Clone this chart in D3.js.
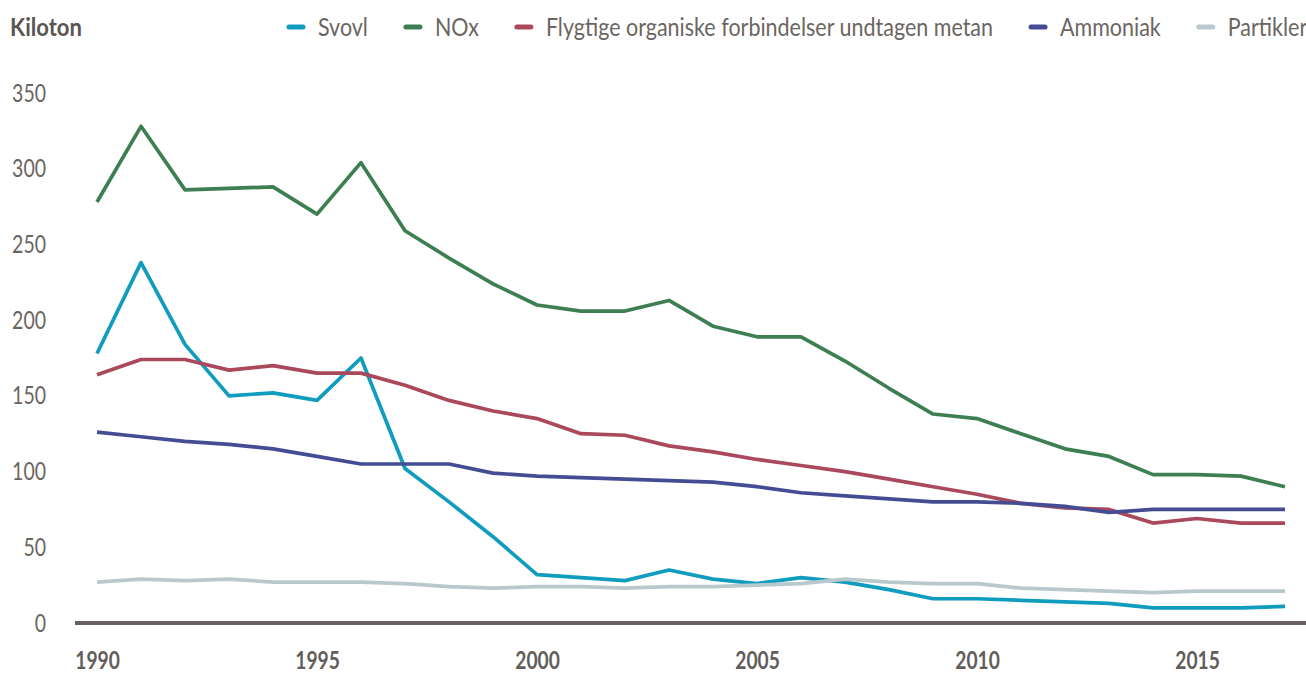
<!DOCTYPE html>
<html>
<head>
<meta charset="utf-8">
<script src="https://cdn.jsdelivr.net/npm/d3@7"></script>
<style>
  body { margin: 0; background: #fff; }
  svg { display: block; font-family: Lato, 'Open Sans', sans-serif; }
</style>
</head>
<body>
<svg width="1306" height="675"></svg>
<script>
// Data (kiloton per year)
const years = d3.range(1990, 2018);
const svovl = [178, 238, 184, 150, 152, 147, 175, 102, 80, 57, 32, 30, 28, 35, 29, 26, 30, 27, 22, 16, 16, 15, 14, 13, 10, 10, 10, 11];
const nox = [278, 328, 286, 287, 288, 270, 304, 259, 241, 224, 210, 206, 206, 213, 196, 189, 189, 173, 155, 138, 135, 125, 115, 110, 98, 98, 97, 90];
const voc = [164, 174, 174, 167, 170, 165, 165, 157, 147, 140, 135, 125, 124, 117, 113, 108, 104, 100, 95, 90, 85, 79, 76, 75, 66, 69, 66, 66];
const ammoniak = [126, 123, 120, 118, 115, 110, 105, 105, 105, 99, 97, 96, 95, 94, 93, 90, 86, 84, 82, 80, 80, 79, 77, 73, 75, 75, 75, 75];
const partikler = [27, 29, 28, 29, 27, 27, 27, 26, 24, 23, 24, 24, 23, 24, 24, 25, 26, 29, 27, 26, 26, 23, 22, 21, 20, 21, 21, 21];

const seriesNames = ['Svovl', 'NOx', 'Flygtige organiske forbindelser undtagen metan', 'Ammoniak', 'Partikler'];
const seriesValues = [svovl, nox, voc, ammoniak, partikler];
const colors = ['#0f9cbf', '#3d7f52', '#a9495b', '#444d94', '#b9c8cd'];
const yTicks = [0, 50, 100, 150, 200, 250, 300, 350];
const xTicks = [1990, 1995, 2000, 2005, 2010, 2015];

const svg = d3.select('svg');
const textColor = '#6b6561';
const squeeze = 0.78;
const legendSqueeze = 0.86;

const x = d3.scaleLinear().domain([1990, 2017]).range([97, 1285]);
const y = d3.scaleLinear().domain([0, 350]).range([623, 93]);

// y axis labels
const gy = svg.append('g').attr('transform', 'translate(46,0)')
  .call(d3.axisLeft(y).tickValues(yTicks).tickSize(0).tickPadding(0));
gy.select('.domain').remove();
gy.selectAll('text')
  .attr('x', 0)
  .attr('transform', `scale(${squeeze},1)`)
  .style('font-family', 'Lato, sans-serif')
  .style('font-size', '25px')
  .attr('fill', textColor);

// x axis labels
const gx = svg.append('g').attr('transform', 'translate(0,623)')
  .call(d3.axisBottom(x).tickValues(xTicks).tickFormat(d3.format('d')).tickSize(0).tickPadding(29));
gx.select('.domain').remove();
gx.selectAll('text')
  .attr('transform', `scale(0.8,1)`)
  .style('font-family', 'Lato, sans-serif')
  .style('font-size', '24px')
  .style('font-weight', 'bold')
  .attr('fill', '#625d5a');

// base line
svg.append('line')
  .attr('x1', x(1989.5)).attr('x2', x(2017.5))
  .attr('y1', y(0)).attr('y2', y(0))
  .attr('stroke', '#67625f')
  .attr('stroke-width', 4);

// lines
const line = d3.line()
  .x((d, i) => x(years[i]))
  .y(d => y(d));

svg.append('g')
  .selectAll('path')
  .data(seriesValues)
  .enter()
  .append('path')
  .attr('d', line)
  .attr('fill', 'none')
  .attr('stroke', (d, i) => colors[i])
  .attr('stroke-width', 3.7)
  .attr('stroke-linejoin', 'round');

// unit label
svg.append('text')
  .attr('transform', 'translate(10,36) scale(0.92,1)')
  .style('font-size', '24px')
  .style('font-weight', 'bold')
  .attr('fill', '#5a5552')
  .text('Kiloton');

// legend
let lx = 287;
seriesNames.forEach(function (name, i) {
  const g = svg.append('g').attr('transform', `translate(${lx},27)`);
  g.append('line')
    .attr('x1', 2).attr('x2', 16)
    .attr('stroke', colors[i])
    .attr('stroke-width', 5)
    .attr('stroke-linecap', 'round');
  const t = g.append('text')
    .attr('transform', `translate(31,0) scale(${legendSqueeze},1)`)
    .attr('dy', '0.35em')
    .style('font-size', '25px')
    .attr('fill', textColor)
    .text(name);
  lx += 31 + t.node().getComputedTextLength() * legendSqueeze + 36;
});
</script>
</body>
</html>
